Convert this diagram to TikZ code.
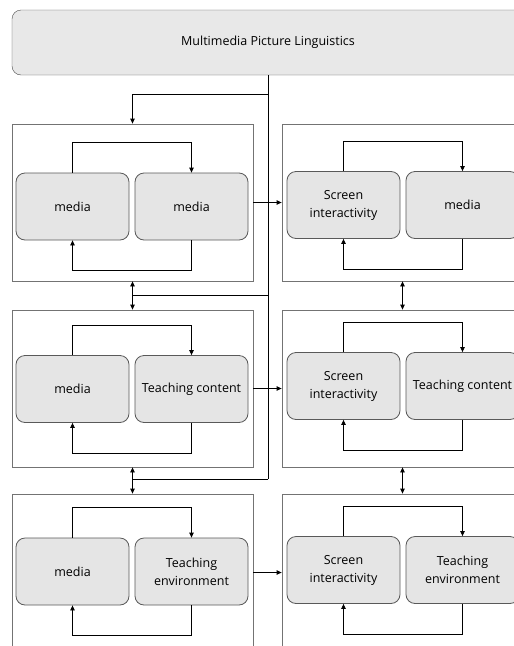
\documentclass[tikz,border=0pt]{standalone}
\usepackage{fontspec}
\setmainfont{Open Sans}
\usetikzlibrary{arrows.meta}

\begin{document}
\begin{tikzpicture}
        [x=1pt, y=-1pt,
        title/.style={draw=black!70, fill=black!9, rounded corners=9pt, minimum width=512pt, minimum height=65pt, font=\fontsize{12.5}{18}\selectfont},
        frame/.style={draw=black!55, line width=0.8pt, minimum width=241pt, minimum height=157pt},
        item/.style={draw=black!65, fill=black!10, line width=0.8pt, rounded corners=9pt, minimum width=113pt, minimum height=67pt, inner sep=1pt, align=center, font=\fontsize{12.5}{18}\selectfont},
        link/.style={black, line width=0.8pt},
        arrow/.style={link, -{Triangle[length=5pt,width=4.5pt]}},
        both/.style={link, {Triangle[length=5pt,width=4.5pt]}-{Triangle[length=5pt,width=4.5pt]}}]

        \useasboundingbox (0,0) rectangle (514,646);
        \clip (0,0) rectangle (514,646);

        \node[title] (top) at (268,42.5) {Multimedia Picture Linguistics};

        % outer frames
        \node[frame] (l1) at (132.5,202.5) {};
        \node[frame] (l2) at (132.5,388.5) {};
        \node[frame] (l3) at (132.5,572.5) {};
        \node[frame] (r1) at (402.5,202.5) {};
        \node[frame] (r2) at (402.5,388.5) {};
        \node[frame] (r3) at (402.5,572.5) {};

        % left column
        \node[item] (a1) at (72.5,206.5) {media};
        \node[item] (b1) at (191.5,206.5) {media};
        \node[item] (a2) at (72.5,389) {media};
        \node[item] (b2) at (191.5,389) {Teaching content};
        \node[item] (a3) at (72.5,571.5) {media};
        \node[item] (b3) at (191.5,571.5) {Teaching\\environment};

        % right column
        \node[item] (c1) at (343.5,205) {Screen\\interactivity};
        \node[item] (d1) at (462.5,205) {media};
        \node[item] (c2) at (343.5,386) {Screen\\interactivity};
        \node[item] (d2) at (462.5,386) {Teaching content};
        \node[item] (c3) at (343.5,570) {Screen\\interactivity};
        \node[item] (d3) at (462.5,570) {Teaching\\environment};

        \coordinate (j0) at (268,94);
        \coordinate (j1) at (268,295);
        \coordinate (j2) at (268,479);

        % trunk from the title
        \draw[link] (top.south) -- (j2);
        \draw[arrow] (j0) -| (l1.north);
        \draw[arrow] (j1) -| (l1.south);
        \draw[arrow] (j1) -| (l2.north);
        \draw[arrow] (j2) -| (l2.south);
        \draw[arrow] (j2) -| (l3.north);
        \draw[both] (r1.south) -- (r2.north);
        \draw[both] (r2.south) -- (r3.north);

        % left to right
        \draw[arrow] (l1.east) -- (r1.west);
        \draw[arrow] (l2.east) -- (r2.west);
        \draw[arrow] (l3.east) -- (r3.west);

        % loops inside the frames
        \draw[arrow] (a1.north) -- ++(0,-30) -| (b1.north);
        \draw[arrow] (b1.south) -- ++(0,30) -| (a1.south);
        \draw[arrow] (a2.north) -- ++(0,-30) -| (b2.north);
        \draw[arrow] (b2.south) -- ++(0,30) -| (a2.south);
        \draw[arrow] (a3.north) -- ++(0,-30) -| (b3.north);
        \draw[arrow] (b3.south) -- ++(0,30) -| (a3.south);
        \draw[arrow] (c1.north) -- ++(0,-30) -| (d1.north);
        \draw[arrow] (d1.south) -- ++(0,30) -| (c1.south);
        \draw[arrow] (c2.north) -- ++(0,-30) -| (d2.north);
        \draw[arrow] (d2.south) -- ++(0,30) -| (c2.south);
        \draw[arrow] (c3.north) -- ++(0,-30) -| (d3.north);
        \draw[arrow] (d3.south) -- ++(0,30) -| (c3.south);

        \end{tikzpicture}
\end{document}
